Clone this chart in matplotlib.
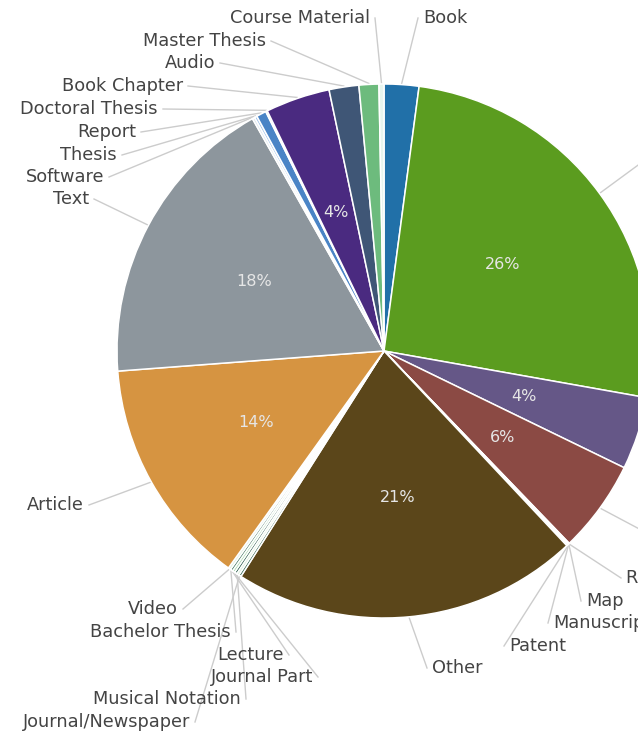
import matplotlib
matplotlib.use("Agg")
import matplotlib.pyplot as plt
import numpy as np

W, H = 638, 735

# slices, clockwise from 12 o'clock
names = ["Book", "Dataset", "Image", "Presentation",
         "Research Data", "Map", "Manuscript", "Patent",
         "Other",
         "Journal/Newspaper", "Musical Notation", "Journal Part", "Lecture",
         "Bachelor Thesis", "Video",
         "Article", "Text",
         "Software", "Thesis", "Report", "Doctoral Thesis",
         "Book Chapter", "Audio", "Master Thesis", "Course Material"]
shares = [2.1, 25.7, 4.4, 5.6,
          0.05, 0.05, 0.05, 0.05,
          21.0,
          0.15, 0.15, 0.15, 0.15,
          0.15, 0.15,
          13.9, 18.0,
          0.15, 0.15, 0.6, 0.1,
          3.9, 1.8, 1.2, 0.3]
colors = ["#2170a8", "#5b9c1f", "#655787", "#8b4a44",
          "#dcc0a0", "#e8d7c0", "#c9a27e", "#b58a63",
          "#5b461a",
          "#3b6e5a", "#d8efd8", "#2f5f4f", "#a8d8b0",
          "#4f7f6a", "#e0f0e0",
          "#d69441", "#8d969d",
          "#dde6ef", "#9ec0e8", "#4a84c6", "#e4e0f0",
          "#4a2a80", "#3f5676", "#6dbb7d", "#e8f5ee"]

# label anchor in screen pixels (x, y) and which side the text sits on
label_xy = {
    "Course Material": (370, 18, "L"), "Master Thesis": (266, 41, "L"),
    "Audio": (215, 63, "L"), "Book Chapter": (183, 86, "L"),
    "Doctoral Thesis": (158, 109, "L"), "Report": (136, 132, "L"),
    "Thesis": (117, 155, "L"), "Software": (104, 177, "L"),
    "Text": (89, 199, "L"), "Article": (84, 505, "L"),
    "Video": (178, 609, "L"), "Bachelor Thesis": (231, 632, "L"),
    "Lecture": (284, 655, "L"), "Journal Part": (313, 677, "L"),
    "Musical Notation": (241, 699, "L"), "Journal/Newspaper": (190, 722, "L"),
    "Book": (423, 18, "R"), "Dataset": (650, 160, "R"),
    "Image": (660, 430, "R"), "Presentation": (650, 532, "R"),
    "Research Data": (626, 578, "R"), "Map": (586, 601, "R"),
    "Manuscript": (553, 623, "R"), "Patent": (509, 646, "R"),
    "Other": (432, 668, "R"),
}

cx, cy, R = 384, H - 351, 267

fig = plt.figure(figsize=(W / 100, H / 100), dpi=100)
ax = fig.add_axes([0, 0, 1, 1])

wedges, texts, autotexts = ax.pie(
    shares, colors=colors, startangle=90, counterclock=False,
    radius=R, center=(cx, cy),
    autopct=lambda p: f"{p:.0f}%" if p >= 3 else "",
    pctdistance=0.55,
    wedgeprops=dict(edgecolor="white", linewidth=1.1),
    textprops=dict(color="#e6e6e6", fontsize=11.5),
)

# outside labels with connector lines
for w, name in zip(wedges, names):
    lx, ly, side = label_xy[name]
    ly = H - ly
    mid = np.deg2rad((w.theta1 + w.theta2) / 2)
    px, py = cx + (R + 1) * np.cos(mid), cy + (R + 1) * np.sin(mid)
    sx = lx + 5 if side == "L" else lx - 5
    ax.plot([sx, px], [ly, py], color="#cccccc", lw=1, zorder=0)
    ax.text(lx, ly, name, ha="right" if side == "L" else "left", va="center",
            fontsize=12.8, color="#444444")

ax.set_xlim(0, W)
ax.set_ylim(0, H)
ax.set_aspect("equal")
ax.axis("off")

plt.savefig("out.png", dpi=100)
